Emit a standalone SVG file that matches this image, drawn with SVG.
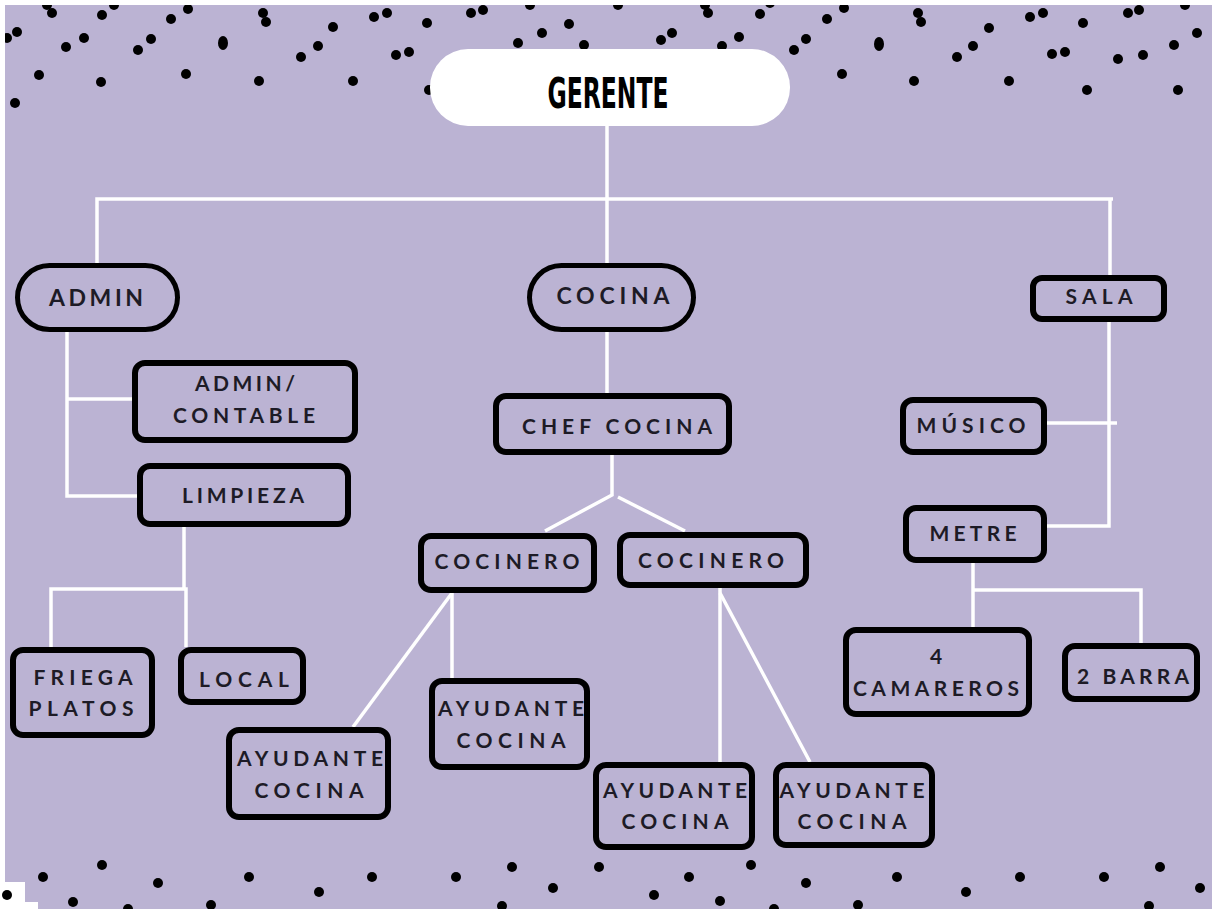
<svg xmlns="http://www.w3.org/2000/svg" width="1212" height="909" viewBox="0 0 1212 909">
<style>
.bg{fill:#bbb3d3}
.dot{fill:#000}
.box{fill:none;stroke:#000;stroke-width:6}
.pill{fill:none;stroke:#000;stroke-width:5}
.conn{fill:none;stroke:#fff;stroke-width:3.5;stroke-linejoin:miter}
.t{font-family:Lato,"Open Sans","DejaVu Sans",sans-serif;font-weight:700;font-size:21px;fill:#1d1b26;text-anchor:middle}
.tl{font-size:23px}
.g{font-family:"Liberation Sans Narrow","DejaVu Sans Condensed","DejaVu Sans",sans-serif;font-weight:700;font-size:42px;fill:#000;text-anchor:middle}
</style>
<rect class="bg" x="0" y="0" width="1212" height="909"/>
<g id="dots">
<circle class="dot" cx="52" cy="13" r="5"/><circle class="dot" cx="47" cy="5" r="5"/><circle class="dot" cx="102" cy="15" r="5"/><circle class="dot" cx="114" cy="5" r="5"/>
<circle class="dot" cx="17" cy="32" r="5"/><circle class="dot" cx="7" cy="38" r="5"/><circle class="dot" cx="66" cy="47" r="5"/><circle class="dot" cx="84" cy="38" r="5"/>
<circle class="dot" cx="39" cy="75" r="5"/><circle class="dot" cx="15" cy="103" r="5"/><circle class="dot" cx="101" cy="82" r="5"/><circle class="dot" cx="138" cy="50" r="5"/>
<circle class="dot" cx="151" cy="39" r="5"/><circle class="dot" cx="171" cy="19" r="5"/><circle class="dot" cx="188" cy="9" r="5"/><circle class="dot" cx="186" cy="74" r="5"/>
<ellipse class="dot" cx="223" cy="43" rx="5" ry="7"/><circle class="dot" cx="263" cy="13" r="5"/><circle class="dot" cx="266" cy="22" r="5"/><circle class="dot" cx="259" cy="81" r="5"/>
<circle class="dot" cx="301" cy="57" r="5"/><circle class="dot" cx="318" cy="46" r="5"/><circle class="dot" cx="333" cy="27" r="5"/><circle class="dot" cx="353" cy="81" r="5"/>
<circle class="dot" cx="374" cy="17" r="5"/><circle class="dot" cx="387" cy="13" r="5"/><circle class="dot" cx="427" cy="23" r="5"/><circle class="dot" cx="396" cy="55" r="5"/>
<circle class="dot" cx="409" cy="52" r="5"/><circle class="dot" cx="471" cy="13" r="5"/><circle class="dot" cx="483" cy="10" r="5"/><circle class="dot" cx="429" cy="90" r="5"/>
<circle class="dot" cx="518" cy="43" r="5"/><circle class="dot" cx="530" cy="5" r="5"/><circle class="dot" cx="542" cy="33" r="5"/><circle class="dot" cx="569" cy="24" r="5"/>
<circle class="dot" cx="584" cy="45" r="5"/><circle class="dot" cx="618" cy="5" r="5"/><circle class="dot" cx="708" cy="13" r="5"/><circle class="dot" cx="705" cy="5" r="5"/>
<circle class="dot" cx="760" cy="14" r="5"/><circle class="dot" cx="770" cy="3" r="5"/><circle class="dot" cx="672" cy="33" r="5"/><circle class="dot" cx="661" cy="40" r="5"/>
<circle class="dot" cx="722" cy="46" r="5"/><circle class="dot" cx="739" cy="37" r="5"/><circle class="dot" cx="827" cy="19" r="5"/><circle class="dot" cx="844" cy="8" r="5"/>
<circle class="dot" cx="806" cy="39" r="5"/><circle class="dot" cx="794" cy="50" r="5"/><ellipse class="dot" cx="879" cy="44" rx="5" ry="7"/><circle class="dot" cx="842" cy="74" r="5"/>
<circle class="dot" cx="914" cy="81" r="5"/><circle class="dot" cx="918" cy="13" r="5"/><circle class="dot" cx="921" cy="22" r="5"/><circle class="dot" cx="989" cy="28" r="5"/>
<circle class="dot" cx="973" cy="46" r="5"/><circle class="dot" cx="957" cy="57" r="5"/><circle class="dot" cx="1009" cy="81" r="5"/><circle class="dot" cx="1030" cy="17" r="5"/>
<circle class="dot" cx="1043" cy="13" r="5"/><circle class="dot" cx="1083" cy="23" r="5"/><circle class="dot" cx="1052" cy="54" r="5"/><circle class="dot" cx="1065" cy="52" r="5"/>
<circle class="dot" cx="1087" cy="90" r="5"/><circle class="dot" cx="1128" cy="13" r="5"/><circle class="dot" cx="1139" cy="10" r="5"/><circle class="dot" cx="1118" cy="59" r="5"/>
<circle class="dot" cx="1143" cy="55" r="5"/><circle class="dot" cx="1174" cy="45" r="5"/><circle class="dot" cx="1197" cy="33" r="5"/><circle class="dot" cx="1185" cy="5" r="5"/>
<circle class="dot" cx="1178" cy="90" r="5"/>
<circle class="dot" cx="43" cy="877" r="5"/><circle class="dot" cx="102" cy="865" r="5"/><circle class="dot" cx="73" cy="902" r="5"/><circle class="dot" cx="158" cy="883" r="5"/>
<circle class="dot" cx="128" cy="909" r="5"/><circle class="dot" cx="211" cy="905" r="5"/><circle class="dot" cx="249" cy="877" r="5"/><circle class="dot" cx="319" cy="892" r="5"/>
<circle class="dot" cx="372" cy="877" r="5"/><circle class="dot" cx="456" cy="877" r="5"/><circle class="dot" cx="512" cy="867" r="5"/><circle class="dot" cx="553" cy="888" r="5"/>
<circle class="dot" cx="502" cy="906" r="5"/><circle class="dot" cx="599" cy="867" r="5"/><circle class="dot" cx="751" cy="865" r="5"/><circle class="dot" cx="689" cy="877" r="5"/>
<circle class="dot" cx="654" cy="895" r="5"/><circle class="dot" cx="720" cy="901" r="5"/><circle class="dot" cx="806" cy="883" r="5"/><circle class="dot" cx="858" cy="905" r="5"/>
<circle class="dot" cx="897" cy="877" r="5"/><circle class="dot" cx="966" cy="892" r="5"/><circle class="dot" cx="1020" cy="877" r="5"/><circle class="dot" cx="1104" cy="877" r="5"/>
<circle class="dot" cx="1160" cy="867" r="5"/><circle class="dot" cx="1200" cy="888" r="5"/><circle class="dot" cx="1149" cy="906" r="5"/><circle class="dot" cx="774" cy="909" r="5"/>
</g>
<g id="frame">
<rect x="0" y="0" width="1212" height="5" fill="#fff"/>
<rect x="0" y="0" width="5" height="909" fill="#fff"/>
<rect x="0" y="882" width="25" height="27" fill="#fff"/>
<rect x="0" y="902" width="38" height="7" fill="#fff"/>
<circle class="dot" cx="7" cy="895" r="5"/>
</g>
<g id="connectors">
<path class="conn" d="M607,126 V266"/>
<path class="conn" d="M97,263 V199 H1113"/>
<path class="conn" d="M1110,199 V275"/>
<path class="conn" d="M67,332 V496 H137"/>
<path class="conn" d="M67,399 H132"/>
<path class="conn" d="M607,332 V393"/>
<path class="conn" d="M612,455 V495 L545,531"/>
<path class="conn" d="M618,497 L685,531"/>
<path class="conn" d="M184,527 V589"/>
<path class="conn" d="M51,647 V589 H186 V647"/>
<path class="conn" d="M452,593 L353,727"/>
<path class="conn" d="M452,593 V678"/>
<path class="conn" d="M720,588 V762"/>
<path class="conn" d="M720,593 L810,762"/>
<path class="conn" d="M1109,322 V526 H1047"/>
<path class="conn" d="M1047,423 H1117"/>
<path class="conn" d="M973,563 V627"/>
<path class="conn" d="M973,590 H1141 V643"/>
</g>
<g id="gerente">
<rect x="430" y="49" width="360" height="77" rx="38" fill="#fff"/>
<text class="g" x="608" y="108" textLength="121" lengthAdjust="spacingAndGlyphs">GERENTE</text>
</g>
<g id="admin">
<rect class="pill" x="17.5" y="265.5" width="160" height="64" rx="32"/>
<text class="t tl" x="96" y="306" textLength="94">ADMIN</text>
</g>
<g id="cocina">
<rect class="pill" x="529.5" y="265.5" width="164" height="64" rx="32"/>
<text class="t tl" x="613" y="304" textLength="113">COCINA</text>
</g>
<g id="sala">
<rect class="box" x="1033" y="278" width="131" height="41" rx="9"/>
<text class="t" x="1099" y="304" textLength="67">SALA</text>
</g>
<g id="admin-contable">
<rect class="box" x="135" y="363" width="220" height="77" rx="10"/>
<text class="t" x="245" y="391" textLength="100">ADMIN/</text>
<text class="t" x="244" y="423" textLength="142">CONTABLE</text>
</g>
<g id="limpieza">
<rect class="box" x="140" y="466" width="208" height="58" rx="10"/>
<text class="t" x="243" y="503" textLength="122">LIMPIEZA</text>
</g>
<g id="chef-cocina">
<rect class="box" x="496" y="396" width="233" height="56" rx="10"/>
<text class="t" x="617" y="434" textLength="190">CHEF COCINA</text>
</g>
<g id="cocinero-1">
<rect class="box" x="421" y="536" width="173" height="54" rx="10"/>
<text class="t" x="507" y="569" textLength="145">COCINERO</text>
</g>
<g id="cocinero-2">
<rect class="box" x="620" y="535" width="186" height="50" rx="10"/>
<text class="t" x="711" y="568" textLength="146">COCINERO</text>
</g>
<g id="musico">
<rect class="box" x="903" y="400" width="141" height="52" rx="10"/>
<text class="t" x="971" y="433" textLength="109">MÚSICO</text>
</g>
<g id="metre">
<rect class="box" x="906" y="508" width="138" height="52" rx="10"/>
<text class="t" x="973" y="541" textLength="87">METRE</text>
</g>
<g id="camareros">
<rect class="box" x="846" y="630" width="183" height="84" rx="10"/>
<text class="t" x="936" y="664">4</text>
<text class="t" x="936" y="696" textLength="166">CAMAREROS</text>
</g>
<g id="barra">
<rect class="box" x="1065" y="646" width="132" height="53" rx="10"/>
<text class="t" x="1133" y="684" textLength="112">2 BARRA</text>
</g>
<g id="friega-platos">
<rect class="box" x="13" y="650" width="139" height="85" rx="10"/>
<text class="t" x="83" y="685" textLength="99">FRIEGA</text>
<text class="t" x="81" y="716" textLength="105">PLATOS</text>
</g>
<g id="local">
<rect class="box" x="181" y="650" width="122" height="52" rx="10"/>
<text class="t" x="244" y="687" textLength="90">LOCAL</text>
</g>
<g id="ayudante-1">
<rect class="box" x="229" y="730" width="159" height="87" rx="10"/>
<text class="t" x="310" y="766" textLength="146">AYUDANTE</text>
<text class="t" x="309" y="798" textLength="109">COCINA</text>
</g>
<g id="ayudante-2">
<rect class="box" x="432" y="681" width="155" height="86" rx="10"/>
<text class="t" x="511" y="716" textLength="146">AYUDANTE</text>
<text class="t" x="511" y="748" textLength="109">COCINA</text>
</g>
<g id="ayudante-3">
<rect class="box" x="596" y="765" width="156" height="82" rx="10"/>
<text class="t" x="675" y="798" textLength="144">AYUDANTE</text>
<text class="t" x="675" y="829" textLength="107">COCINA</text>
</g>
<g id="ayudante-4">
<rect class="box" x="776" y="765" width="156" height="80" rx="10"/>
<text class="t" x="852" y="798" textLength="145">AYUDANTE</text>
<text class="t" x="852" y="829" textLength="109">COCINA</text>
</g>
</svg>
